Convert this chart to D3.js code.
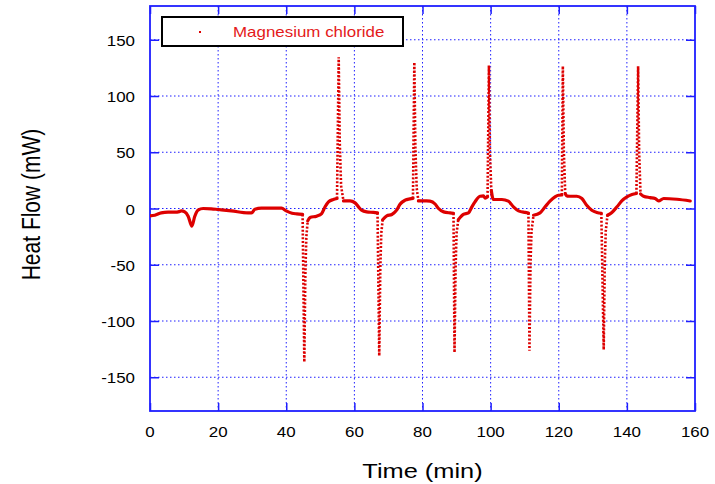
<!DOCTYPE html>
<html>
<head>
<meta charset="utf-8">
<script src="https://cdn.jsdelivr.net/npm/d3@7"></script>
<style>
  html, body { margin: 0; padding: 0; background: #fff; }
  svg text { font-family: "Liberation Sans", Arial, sans-serif; }
</style>
</head>
<body>
<svg id="chart" width="715" height="484"></svg>
<script>
// ---- data ----
const timeMin = [0, 1.4, 3.3, 5.3, 7.3, 8.6, 9.2, 10.2, 11.2, 12.3, 13.1, 14.1, 15.6, 18, 20, 23.9, 28.8, 29.8, 30.8, 32.7, 38.6, 40, 41.7, 43.1, 44.8,
  45.3, 45.6, 45.9, 46.3, 47, 48.9, 50.4, 51.4, 52.4, 53.8, 54.9,
  55.4, 55.7, 56.1, 56.8, 58.7, 60.2, 61.2, 62.1, 63.6, 65.6, 66.8,
  67.3, 67.6, 67.9, 68.3, 69.5, 71, 72.4, 73.4, 74.9, 76.3, 77.2,
  77.6, 77.9, 78.3, 78.8, 81.2, 82.2, 83.7, 84.7, 86.2, 88.1, 89.1,
  89.4, 89.7, 90, 90.5, 92, 93.5, 94.5, 95.4, 96.9, 97.9, 98.4, 99.1,
  99.5, 99.8, 100.2, 100.8, 103.3, 105.2, 106.7, 108.2, 110.1, 111.1,
  111.4, 111.7, 112, 112.6, 114.5, 116, 117.5, 118.9, 119.9, 120.9,
  121.2, 121.5, 121.9, 122.5, 123.3, 125.3, 126.8, 128.2, 129.7, 131.2, 132.5,
  133.2, 133.5, 133.8, 134.3, 135.6, 137.1, 138.5, 140, 141.5, 142.8,
  143.3, 143.6, 144, 144.9, 146.8, 148.3, 149.3, 150.8, 154.7, 158.6];
const heatFlow = [-6.5, -6, -3.9, -3.3, -3.3, -2.8, -2.1, -3, -6.8, -15.7, -7.4, -1.5, 0, -0.3, -0.9, -2.1, -3.9, -3.9, -0.6, 0.3, 0.3, -2.1, -4.2, -4.8, -5.3,
  -136.5, -60, -25, -11, -8, -6.8, -4.5, 1.5, 5.9, 8, 8.9,
  134.5, 60, 20, 6.7, 6.7, 5, 1.5, -1.5, -3, -3.5, -3.9,
  -131, -55, -22, -10, -6.5, -5.3, -1.5, 3.8, 7.4, 8.5, 9,
  130, 55, 18, 6.7, 6.7, 6.5, 4, 0, -3, -3.9, -4.2,
  -128, -55, -22, -10, -5.3, -3.9, 1.5, 5.9, 10.9, 11.2, 9.3, 10.5,
  127, 50, 16, 8, 8, 6.5, 1.5, -2.1, -3.5, -4,
  -126.5, -50, -20, -6, -3.9, 1.5, 6.7, 10.3, 11.8, 12,
  126.5, 50, 13, 11, 10.9, 10.9, 8.9, 2.9, -1.5, -3.5, -4.2,
  -125.6, -50, -20, -6, -3.5, 1.5, 6.7, 10.3, 12.4, 13.3,
  126.5, 50, 13, 10.9, 9.7, 8.9, 6.7, 8.9, 8.2, 6.7];
const xTicks = [0, 20, 40, 60, 80, 100, 120, 140, 160];
const yTicks = [-150, -100, -50, 0, 50, 100, 150];
const seriesName = "Magnesium chloride";
const xTitle = "Time (min)";
const yTitle = "Heat Flow (mW)";

// ---- layout ----
const L = 150, R = 695, T = 6, B = 411;
const STRETCH = 1.21;
const blue = "#1f1fff", red = "#dd0000";

const svg = d3.select("#chart");
const x = d3.scaleLinear().domain([0, 160]).range([L, R]);
const y = d3.scaleLinear().domain([-180, 180]).range([B, T]);

// grid
const grid = svg.append("g");
grid.selectAll("line.gx").data(xTicks.filter(d => d > 0 && d < 160)).join("line")
  .attr("x1", d => x(d)).attr("x2", d => x(d)).attr("y1", T).attr("y2", B)
  .attr("stroke", blue).attr("stroke-width", 1).attr("stroke-dasharray", "1.5,2.5");
grid.selectAll("line.gy").data(yTicks).join("line")
  .attr("y1", d => y(d)).attr("y2", d => y(d)).attr("x1", L).attr("x2", R)
  .attr("stroke", blue).attr("stroke-width", 1).attr("stroke-dasharray", "1.5,2.5");

// axes with inward ticks (no domain path)
function styleAxis(g) {
  g.select(".domain").remove();
  g.selectAll(".tick line").attr("stroke", blue).attr("stroke-width", 1.5);
  g.selectAll(".tick text").remove();
}
svg.append("g").attr("transform", `translate(0,${B})`)
  .call(d3.axisBottom(x).tickValues(xTicks).tickSize(-8)).call(styleAxis);
svg.append("g").attr("transform", `translate(0,${T})`)
  .call(d3.axisTop(x).tickValues(xTicks).tickSize(-8)).call(styleAxis);
svg.append("g").attr("transform", `translate(${L},0)`)
  .call(d3.axisLeft(y).tickValues(yTicks).tickSize(-9)).call(styleAxis);
svg.append("g").attr("transform", `translate(${R},0)`)
  .call(d3.axisRight(y).tickValues(yTicks).tickSize(-9)).call(styleAxis);

// frame
svg.append("rect").attr("x", L).attr("y", T).attr("width", R - L).attr("height", B - T)
  .attr("fill", "none").attr("stroke", blue).attr("stroke-width", 1.8);

// tick labels (horizontally stretched like the reference)
svg.append("g").selectAll("text").data(xTicks).join("text")
  .attr("transform", d => `translate(${x(d)},${B + 26}) scale(${STRETCH},1)`)
  .attr("text-anchor", "middle").attr("font-size", 14).attr("fill", "#000")
  .text(d => d);
svg.append("g").selectAll("text").data(yTicks).join("text")
  .attr("transform", d => `translate(${L - 15},${y(d) + 6}) scale(${STRETCH},1)`)
  .attr("text-anchor", "end").attr("font-size", 14).attr("fill", "#000")
  .text(d => d);

// axis titles
svg.append("text")
  .attr("transform", `translate(${(L + R) / 2},${B + 67}) scale(${STRETCH},1)`)
  .attr("text-anchor", "middle").attr("font-size", 21).attr("fill", "#000")
  .text(xTitle);
svg.append("text")
  .attr("transform", `translate(40,${(T + B) / 2 - 4}) scale(${STRETCH},1) rotate(-90)`)
  .attr("text-anchor", "middle").attr("font-size", 21).attr("fill", "#000")
  .text(yTitle);

// ---- series ----
const pts = timeMin.map((t, i) => [t, heatFlow[i]]);
function steep(a, b) {
  const dy = Math.abs(y(b[1]) - y(a[1]));
  const dx = Math.abs(x(b[0]) - x(a[0]));
  return dy > 12 && dy / Math.max(dx, 0.01) > 5;
}
// group consecutive segments by type
const runs = [];
for (let i = 0; i < pts.length - 1; i++) {
  const s = steep(pts[i], pts[i + 1]);
  const last = runs[runs.length - 1];
  if (last && last.steep === s) last.pts.push(pts[i + 1]);
  else runs.push({ steep: s, pts: [pts[i], pts[i + 1]] });
}
svg.append("clipPath").attr("id", "plotclip").append("rect")
  .attr("x", L).attr("y", T).attr("width", R - L).attr("height", B - T);
const series = svg.append("g").attr("clip-path", "url(#plotclip)");
const lineSmooth = d3.line().x(d => x(d[0])).y(d => y(d[1])).curve(d3.curveMonotoneX);
const lineLin = d3.line().x(d => x(d[0])).y(d => y(d[1]));
runs.filter(r => !r.steep).forEach(r => {
  series.append("path").attr("d", lineSmooth(r.pts)).attr("fill", "none")
    .attr("stroke", red).attr("stroke-width", 3.2).attr("stroke-linejoin", "round").attr("stroke-linecap", "round");
});
runs.filter(r => r.steep).forEach(r => {
  series.append("path").attr("d", lineLin(r.pts)).attr("fill", "none")
    .attr("stroke", red).attr("stroke-width", 2.6).attr("stroke-dasharray", "2,1.8");
});

// ---- legend ----
const lg = svg.append("g");
lg.append("rect").attr("x", 162).attr("y", 17).attr("width", 241).attr("height", 29)
  .attr("fill", "#fff").attr("stroke", "#000").attr("stroke-width", 2);
lg.append("rect").attr("x", 199).attr("y", 31).attr("width", 2).attr("height", 2).attr("fill", red);
lg.append("text")
  .attr("transform", `translate(233,37) scale(${STRETCH},1)`)
  .attr("font-size", 14).attr("fill", "#e41a1a").text(seriesName);
</script>
</body>
</html>
